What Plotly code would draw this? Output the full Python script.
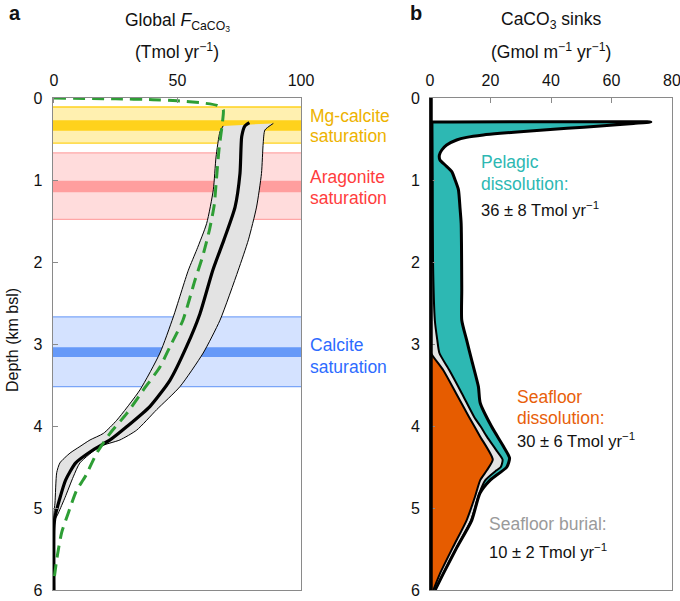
import plotly.graph_objects as go

W, H = 680, 601

# ---------------- data ----------------
# Panel a: saturation horizons (depth, km bsl)
band_labels = [["Mg-calcite", "saturation"], ["Aragonite", "saturation"], ["Calcite", "saturation"]]
band_light_top = [0.11, 0.67, 2.67]
band_light_bot = [0.55, 1.48, 3.52]
band_dark_top = [0.27, 1.01, 3.04]
band_dark_bot = [0.40, 1.15, 3.16]

# Panel a: global CaCO3 flux profile (Tmol/yr) vs depth (km)
main_depth = [0.30, 0.34, 0.47, 0.92, 1.33, 1.73, 2.10, 2.63, 3.03, 3.44, 3.76, 4.01, 4.17, 4.29, 4.45, 4.66, 4.90, 5.11, 5.25, 6.00]
main_flux = [79.1, 77.3, 76.0, 75.3, 73.3, 68.8, 64.3, 59.1, 53.7, 47.0, 38.9, 29.4, 22.7, 15.9, 8.8, 4.7, 2.2, 0.4, 0.0, 0.0]

upper_depth = [0.31, 0.39, 0.55, 0.92, 1.33, 1.73, 2.10, 2.71, 3.11, 3.52, 3.80, 4.05, 4.17, 4.25, 4.45, 4.62, 4.87, 5.06, 5.18, 6.00]
upper_flux = [88.8, 85.4, 84.7, 84.0, 82.0, 78.7, 74.6, 67.2, 60.4, 51.0, 41.6, 33.5, 26.7, 18.6, 10.5, 7.8, 4.5, 1.8, 0.0, 0.0]

lower_depth = [0.34, 0.41, 0.72, 1.12, 1.53, 1.85, 2.10, 2.67, 3.11, 3.56, 3.93, 4.09, 4.17, 4.25, 4.33, 4.45, 4.57, 4.94, 5.06, 6.00]
lower_flux = [68.5, 67.2, 65.6, 64.5, 61.8, 57.8, 54.4, 48.3, 42.9, 34.8, 25.4, 20.0, 14.6, 10.5, 6.5, 2.4, 1.1, 0.4, 0.0, 0.0]

model_depth = [0.00, 0.01, 0.02, 0.035, 0.06, 0.09, 0.14, 0.27, 0.63, 1.05, 1.30, 1.60, 1.92, 2.22, 2.71, 3.03, 3.28, 3.56, 3.85, 4.09, 4.33, 4.62, 4.78, 5.06, 5.30, 5.63, 5.88]
model_flux = [0.0, 25.0, 40.0, 50.0, 60.0, 66.0, 68.5, 68.3, 66.8, 65.6, 64.9, 63.0, 60.3, 57.1, 52.2, 47.0, 42.9, 36.2, 29.4, 22.7, 17.3, 12.6, 9.2, 5.8, 3.1, 1.1, 0.0]

# Panel b: CaCO3 sinks (Gmol m-1 yr-1), cumulative curves vs depth (km)
total_depth = [0.293, 0.293, 0.31, 0.341, 0.370, 0.398, 0.431, 0.451, 0.480, 0.512, 0.573, 0.634, 0.695, 0.756, 0.817, 0.898, 1.00, 1.12, 1.33, 1.53, 2.34, 2.71, 2.95, 3.20, 3.52, 3.72, 4.01, 4.25, 4.39, 4.50, 4.66, 4.82, 5.15, 5.48, 5.80, 6.00]
total_sink = [0.0, 73.0, 67.3, 56.3, 45.3, 34.2, 23.2, 17.6, 12.1, 8.8, 5.5, 3.9, 3.1, 3.3, 5.0, 7.2, 8.3, 9.4, 9.9, 10.3, 10.5, 10.5, 12.1, 13.8, 16.0, 16.6, 20.4, 24.3, 26.3, 25.4, 19.9, 16.5, 13.8, 8.9, 4.4, 1.7]

burial_depth = [0.293, 1.00, 2.00, 2.71, 2.95, 3.11, 3.32, 3.60, 3.89, 4.01, 4.13, 4.30, 4.41, 4.50, 4.54, 4.66, 4.82, 5.15, 5.48, 5.80, 6.00]
burial_sink = [0.8, 0.9, 1.0, 1.6, 2.4, 3.1, 6.4, 10.5, 14.6, 16.8, 18.8, 22.0, 24.0, 23.4, 22.0, 18.3, 16.3, 13.6, 8.8, 4.4, 1.7]

seafloor_depth = [3.05, 3.11, 3.32, 3.60, 3.89, 4.13, 4.41, 4.54, 4.66, 4.86, 5.15, 5.47, 5.80, 6.00]
seafloor_sink = [0.0, 0.3, 4.4, 8.6, 12.9, 16.6, 20.75, 18.8, 16.6, 14.9, 12.1, 7.7, 3.3, 1.1]

depth_ticks = [0, 1, 2, 3, 4, 5, 6]
flux_ticks = [0, 50, 100]
sink_ticks = [0, 20, 40, 60, 80]

# ---------------- styles ----------------
FONT = "Liberation Sans, Arial, Helvetica, sans-serif"
light_cols = ["#FFF0B0", "#FFDCDC", "#D4E2FF"]
dark_cols = ["#FFD21C", "#FF9E9E", "#6699F8"]
edge_cols = ["#FFD21C", "#FFA6A6", "#7AA5F8"]
text_cols = ["#EDB200", "#FF3D3D", "#2D6BFF"]
TEAL = "#2DB8B3"
ORANGE = "#E65C00"
GRAYFILL = "#E3E3E3"
FRAME = "#8A8A8A"

# panel a: small negative range margin so the zero-flux line is not clipped
ax_l, ax_r = 52.5 / W, 301 / W
bx_l, bx_r = 430 / W, 672 / W
y_bot, y_top = 1 - 590 / H, 1 - 98 / H


def px(x):
    return x / W


def py(y):
    return 1 - y / H


fig = go.Figure()
SM = 0.6

# ---- panel a ----
fig.add_trace(go.Scatter(
    x=lower_flux + upper_flux[::-1], y=lower_depth + upper_depth[::-1],
    fill="toself", fillcolor=GRAYFILL, line=dict(width=0, shape="spline", smoothing=SM),
    mode="lines", xaxis="x", yaxis="y", hoverinfo="skip"))
fig.add_trace(go.Scatter(x=lower_flux, y=lower_depth, mode="lines",
                         line=dict(color="black", width=1, shape="spline", smoothing=SM), xaxis="x", yaxis="y"))
fig.add_trace(go.Scatter(x=upper_flux, y=upper_depth, mode="lines",
                         line=dict(color="black", width=1, shape="spline", smoothing=SM), xaxis="x", yaxis="y"))
fig.add_trace(go.Scatter(x=main_flux, y=main_depth, mode="lines",
                         line=dict(color="black", width=3.2, shape="spline", smoothing=SM), xaxis="x", yaxis="y"))
fig.add_trace(go.Scatter(x=model_flux, y=model_depth, mode="lines",
                         line=dict(color="#2E9E35", width=3, dash="12px,7px", shape="spline", smoothing=SM),
                         xaxis="x", yaxis="y"))

# ---- panel b ----
fig.add_trace(go.Scatter(x=burial_sink, y=burial_depth, mode="lines", fill="tozerox", fillcolor=GRAYFILL,
                         line=dict(width=0, shape="spline", smoothing=SM), xaxis="x2", yaxis="y2"))
fig.add_trace(go.Scatter(x=seafloor_sink, y=seafloor_depth, mode="lines", fill="tozerox", fillcolor=ORANGE,
                         line=dict(width=0, shape="spline", smoothing=SM), xaxis="x2", yaxis="y2"))
fig.add_trace(go.Scatter(x=total_sink + burial_sink[::-1], y=total_depth + burial_depth[::-1], mode="lines",
                         fill="toself", fillcolor=TEAL, line=dict(width=0, shape="spline", smoothing=SM),
                         xaxis="x2", yaxis="y2"))
fig.add_trace(go.Scatter(x=seafloor_sink, y=seafloor_depth, mode="lines",
                         line=dict(color="black", width=2, shape="spline", smoothing=SM), xaxis="x2", yaxis="y2"))
fig.add_trace(go.Scatter(x=burial_sink, y=burial_depth, mode="lines",
                         line=dict(color="black", width=2, shape="spline", smoothing=SM), xaxis="x2", yaxis="y2"))
fig.add_trace(go.Scatter(x=total_sink, y=total_depth, mode="lines",
                         line=dict(color="black", width=3, shape="spline", smoothing=SM), xaxis="x2", yaxis="y2"))

# ---- saturation bands (panel a) ----
shapes = []
for i in range(3):
    shapes.append(dict(type="rect", xref="x domain", yref="y", x0=0, x1=1,
                       y0=band_light_top[i], y1=band_light_bot[i], fillcolor=light_cols[i],
                       line=dict(width=0), layer="below"))
    shapes.append(dict(type="rect", xref="x domain", yref="y", x0=0, x1=1,
                       y0=band_dark_top[i], y1=band_dark_bot[i], fillcolor=dark_cols[i],
                       line=dict(width=0), layer="below"))
    for yy in (band_light_top[i], band_light_bot[i]):
        shapes.append(dict(type="line", xref="x domain", yref="y", x0=0, x1=1, y0=yy, y1=yy,
                           line=dict(color=edge_cols[i], width=1.3), layer="below"))
# thick left axis of panel b
shapes.append(dict(type="line", xref="paper", yref="paper", x0=px(431), x1=px(431), y0=y_bot, y1=y_top,
                   line=dict(color="black", width=3.5), layer="above"))

axis_common = dict(showgrid=False, zeroline=False, showline=True, mirror=True, linecolor=FRAME, linewidth=1,
                   automargin=False, ticklabeloverflow="allow",
                   ticks="inside", ticklen=5, tickcolor=FRAME, tickfont=dict(size=16, color="#111", family=FONT))

fig.update_layout(
    width=W, height=H, margin=dict(l=0, r=0, t=0, b=0, pad=0), autosize=False,
    paper_bgcolor="white", plot_bgcolor="white", showlegend=False,
    font=dict(family=FONT, size=16, color="#111"),
    xaxis=dict(domain=[ax_l, ax_r], range=[-0.6, 100], side="top", anchor="y", tickvals=flux_ticks,
               ticklabelstandoff=5, **axis_common),
    yaxis=dict(domain=[y_bot, y_top], range=[6, 0], anchor="x", tickvals=depth_ticks,
               ticklabelstandoff=6, **axis_common),
    xaxis2=dict(domain=[bx_l, bx_r], range=[0, 80], side="top", anchor="y2", tickvals=sink_ticks,
                ticklabelstandoff=5, **axis_common),
    yaxis2=dict(domain=[y_bot, y_top], range=[6, 0], anchor="x2", tickvals=depth_ticks,
                ticklabelstandoff=6, **axis_common),
    shapes=shapes,
)

ann = []


def add_text(text, x, y, color="#111", size=17.5, xanchor="left", bold=False, angle=0):
    ann.append(dict(text=("<b>%s</b>" % text) if bold else text, x=px(x), y=py(y), xref="paper", yref="paper",
                    showarrow=False, xanchor=xanchor, yanchor="middle", textangle=angle,
                    font=dict(family=FONT, size=size, color=color)))


add_text("a", 15, 13, size=20, xanchor="center", bold=True)
add_text("b", 416, 13, size=20, xanchor="center", bold=True)
add_text("Global <i>F</i><sub>CaCO<sub>3</sub></sub>", 177, 22, xanchor="center")
add_text("(Tmol yr<sup>−1</sup>)", 177, 51, xanchor="center")
add_text("CaCO<sub>3</sub> sinks", 551, 21, xanchor="center")
add_text("(Gmol m<sup>−1</sup> yr<sup>−1</sup>)", 551, 51, xanchor="center")
add_text("Depth (km bsl)", 12, 340, size=16, xanchor="center", angle=-90)

label_y = [(116, 136), (177, 198), (345, 367)]
for i in range(3):
    add_text(band_labels[i][0], 308, label_y[i][0], color=text_cols[i])
    add_text(band_labels[i][1], 308, label_y[i][1], color=text_cols[i])

add_text("Pelagic", 479, 162, color=TEAL)
add_text("dissolution:", 479, 184, color=TEAL)
add_text("36 ± 8 Tmol yr<sup>−1</sup>", 479, 209, size=16.5)
add_text("Seafloor", 515, 397, color="#E8600A")
add_text("dissolution:", 515, 418, color="#E8600A")
add_text("30 ± 6 Tmol yr<sup>−1</sup>", 515, 440, size=16.5)
add_text("Seafloor burial:", 487, 524, color="#9A9A9A")
add_text("10 ± 2 Tmol yr<sup>−1</sup>", 487, 551, size=16.5)

fig.update_layout(annotations=ann)
fig.write_html("out.html", config={"displayModeBar": False},
               post_script="document.body.style.margin='0';document.body.style.overflow='hidden';")
